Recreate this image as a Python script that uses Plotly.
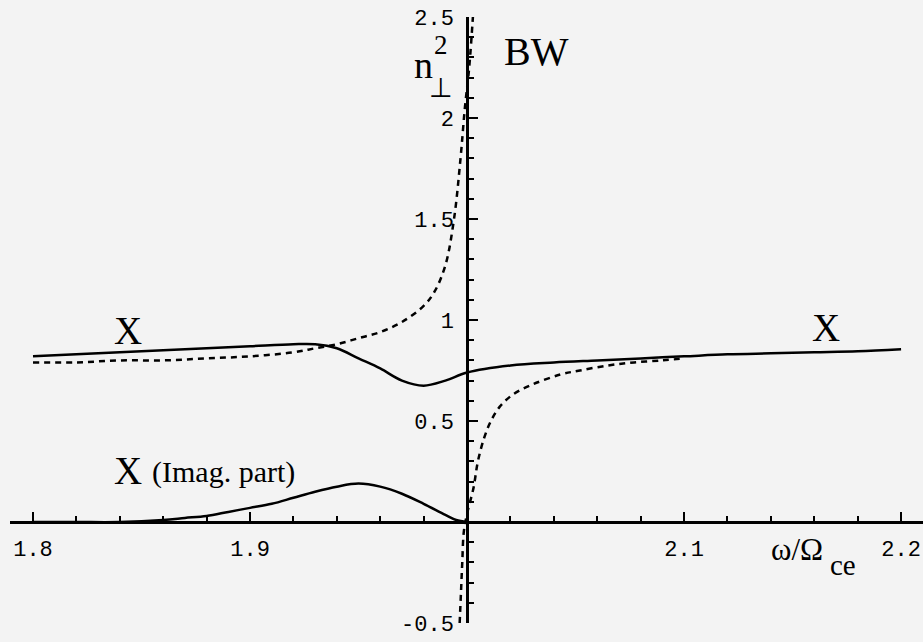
import plotly.graph_objects as go

# ---- data ----
# X mode, real part (solid)
x_real = [1.80, 1.82, 1.84, 1.86, 1.88, 1.90, 1.92, 1.93, 1.94, 1.95, 1.96, 1.97, 1.98, 1.99,
          2.00, 2.02, 2.04, 2.06, 2.08, 2.10, 2.12, 2.14, 2.16, 2.18, 2.20]
y_real = [0.82, 0.83, 0.84, 0.85, 0.86, 0.87, 0.88, 0.88, 0.86, 0.81, 0.76, 0.70, 0.675, 0.70,
          0.74, 0.775, 0.79, 0.80, 0.81, 0.82, 0.83, 0.835, 0.84, 0.845, 0.855]

# Dashed branch left of the resonance (rising to BW)
x_dash_left = [1.80, 1.82, 1.84, 1.86, 1.88, 1.90, 1.92, 1.93, 1.94, 1.95, 1.96, 1.97, 1.98,
               1.985, 1.99, 1.994, 1.997, 1.999, 2.001, 2.003]
y_dash_left = [0.79, 0.79, 0.80, 0.80, 0.81, 0.82, 0.84, 0.86, 0.88, 0.91, 0.94, 0.99, 1.07,
               1.14, 1.27, 1.50, 1.80, 2.05, 2.25, 2.55]

# Dashed branch right of the resonance
x_dash_right = [1.9966, 1.9972, 1.9978, 1.9985, 2.000, 2.003, 2.005, 2.008, 2.011, 2.015,
                2.021, 2.030, 2.043, 2.052, 2.065, 2.077, 2.090, 2.100]
y_dash_right = [-0.50, -0.35, -0.20, -0.05, 0.04, 0.17, 0.30, 0.42, 0.50, 0.57,
                0.63, 0.68, 0.73, 0.75, 0.775, 0.79, 0.80, 0.81]

# X mode, imaginary part (solid)
x_imag = [1.80, 1.82, 1.84, 1.86, 1.87, 1.88, 1.89, 1.90, 1.91, 1.92, 1.93, 1.94, 1.95,
          1.96, 1.97, 1.98, 1.99, 1.995, 2.00]
y_imag = [0.0, 0.0, 0.0, 0.01, 0.02, 0.03, 0.05, 0.07, 0.09, 0.12, 0.15, 0.175, 0.19,
          0.175, 0.14, 0.09, 0.035, 0.01, 0.0]

x_ticks = [1.8, 1.9, 2.1, 2.2]
x_tick_text = ["1.8", "1.9", "2.1", "2.2"]
y_ticks = [-0.5, 0.5, 1, 1.5, 2, 2.5]
y_tick_text = ["-0.5", "0.5", "1", "1.5", "2", "2.5"]

X_RANGE = [1.7894, 2.2101]
Y_RANGE = [-0.5, 2.5]

# ---- figure ----
fig = go.Figure()
line_solid = dict(color="black", width=2.5)
line_dash = dict(color="black", width=2.5, dash="6px,5px")

fig.add_trace(go.Scatter(x=x_real, y=y_real, mode="lines", line=dict(line_solid, shape="spline"), showlegend=False))
fig.add_trace(go.Scatter(x=x_dash_left, y=y_dash_left, mode="lines", line=dict(line_dash, shape="spline"), showlegend=False))
fig.add_trace(go.Scatter(x=x_dash_right, y=y_dash_right, mode="lines", line=dict(line_dash, shape="spline"), showlegend=False))
fig.add_trace(go.Scatter(x=x_imag, y=y_imag, mode="lines", line=dict(line_solid, shape="spline"), showlegend=False))

x_pos = (2.0 - X_RANGE[0]) / (X_RANGE[1] - X_RANGE[0])
y_pos = (0.0 - Y_RANGE[0]) / (Y_RANGE[1] - Y_RANGE[0])

tickfont = dict(family="Liberation Mono", size=22, color="black")

fig.update_layout(
    width=923, height=642,
    margin=dict(l=10, r=0, t=17, b=19),
    paper_bgcolor="#f3f3f3", plot_bgcolor="#f3f3f3",
    xaxis=dict(range=X_RANGE, anchor="free", position=y_pos, showgrid=False, zeroline=False,
               showline=True, linecolor="black", linewidth=2.5,
               tickmode="array", tickvals=x_ticks, ticktext=x_tick_text,
               ticks="inside", ticklen=9, tickwidth=2, tickcolor="black",
               minor=dict(ticks="inside", ticklen=5, tickwidth=1.5, tickcolor="black",
                          tickmode="linear", tick0=1.8, dtick=0.02, showgrid=False),
               tickfont=tickfont, ticklabelstandoff=6),
    yaxis=dict(range=Y_RANGE, anchor="free", position=x_pos, showgrid=False, zeroline=False,
               showline=True, linecolor="black", linewidth=2.5,
               tickmode="array", tickvals=y_ticks, ticktext=y_tick_text,
               ticks="inside", ticklen=9, tickwidth=2, tickcolor="black",
               minor=dict(ticks="inside", ticklen=5, tickwidth=1.5, tickcolor="black",
                          tickmode="linear", tick0=0, dtick=0.1, showgrid=False),
               tickfont=tickfont, ticklabelstandoff=8),
)

serif = "Liberation Serif"
def ann(text, x, y, size, xanchor="center", yanchor="middle"):
    fig.add_annotation(text=text, x=x, y=y, xref="x", yref="y", showarrow=False,
                       font=dict(family=serif, size=size, color="black"),
                       xanchor=xanchor, yanchor=yanchor)

ann("X", 1.8438, 0.95, 39)
ann("X", 2.1654, 0.965, 39)
ann("X", 1.8364, 0.257, 39, xanchor="left")
ann("(Imag. part)", 1.8540, 0.250, 30, xanchor="left")
ann("BW", 2.0322, 2.33, 40)
ann("n", 1.9800, 2.26, 38)
ann("2", 1.9882, 2.36, 27)
ann("⊥", 1.9882, 2.15, 27)
ann("ω/Ω", 2.1520, -0.135, 31)
ann("ce", 2.1733, -0.215, 29)

fig.write_html("out.html")
